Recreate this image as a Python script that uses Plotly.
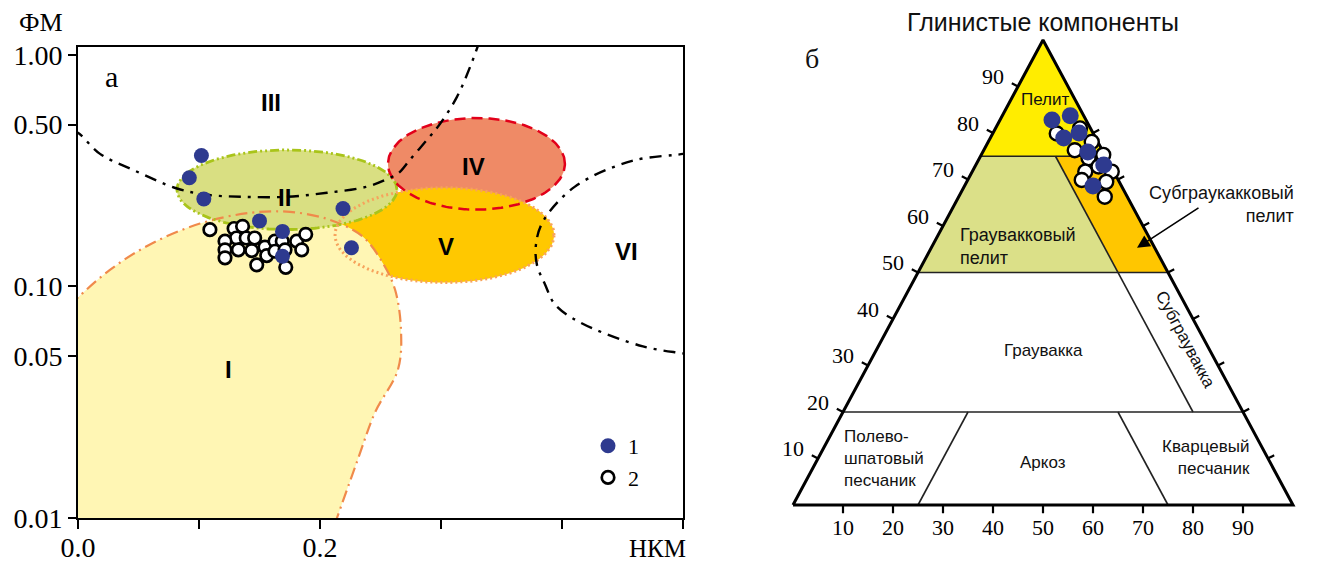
import numpy as np
import plotly.graph_objects as go

# ---------------- Panel "а": НКМ vs ФМ (log) ----------------
nkm_1 = [0.102, 0.092, 0.104, 0.150, 0.169, 0.169, 0.219, 0.226]
fm_1 = [0.368, 0.295, 0.239, 0.192, 0.173, 0.135, 0.217, 0.147]

nkm_2 = [0.109, 0.129, 0.136, 0.131, 0.139, 0.146, 0.1215, 0.1215, 0.1215, 0.1325, 0.1436,
         0.1545, 0.156, 0.1477, 0.1628, 0.1688, 0.1628, 0.1711, 0.1807, 0.1849, 0.1882, 0.1717]
fm_2 = [0.176, 0.178, 0.182, 0.162, 0.162, 0.162, 0.157, 0.144, 0.133, 0.144, 0.143,
        0.148, 0.136, 0.124, 0.157, 0.157, 0.142, 0.144, 0.157, 0.144, 0.168, 0.121]

# field I boundary (НКМ, ФМ)
field1_x = [-0.007, 0.0, 0.0264, 0.0595, 0.1008, 0.1421, 0.1752, 0.2083, 0.2355, 0.2521, 0.262,
            0.2669, 0.2645, 0.2455, 0.2314, 0.214, 0.2107]
field1_y = [0.0828, 0.0897, 0.118, 0.152, 0.187, 0.208, 0.210, 0.194, 0.164, 0.1257, 0.097,
            0.0653, 0.0439, 0.0286, 0.0180, 0.0100, 0.00897]

# elliptical fields: centre НКМ, centre log10(ФМ), half-width НКМ, half-height (decades)
field2_ell = (0.1727, -0.582, 0.0909, 0.172)
field4_ell = (0.3293, -0.470, 0.0731, 0.198)
field5_ell = (0.3029, -0.778, 0.0905, 0.205)

# dash-dot boundary lines
bound1_x = [-0.005, 0.0, 0.0182, 0.0455, 0.0818, 0.1066, 0.1364, 0.1727, 0.2058, 0.2388, 0.2579,
            0.2653, 0.2744, 0.2884, 0.2992, 0.3132, 0.3240, 0.3322]
bound1_y = [0.47, 0.461, 0.374, 0.319, 0.265, 0.249, 0.244, 0.244, 0.254, 0.270, 0.295,
            0.310, 0.353, 0.430, 0.504, 0.659, 0.887, 1.16]
bound2_x = [0.5058, 0.5, 0.4579, 0.4107, 0.3843, 0.3785, 0.3793, 0.3860, 0.3942, 0.4149, 0.4669,
            0.5, 0.5058]
bound2_y = [0.382, 0.374, 0.349, 0.270, 0.191, 0.152, 0.124, 0.102, 0.0836, 0.070, 0.0551,
            0.0514, 0.0507]

x_ticks = [0.0, 0.1, 0.2, 0.3, 0.4, 0.5]
x_ticktext = ["0.0", "", "0.2", "", "", ""]
y_ticks = [1.0, 0.5, 0.1, 0.05, 0.01]
y_ticktext = ["1.00", "0.50", "0.10", "0.05", "0.01"]

field_labels = ["III", "II", "IV", "V", "VI", "I"]
field_label_x = [0.1595, 0.171, 0.327, 0.304, 0.453, 0.124]
field_label_y = [0.621, 0.242, 0.329, 0.149, 0.142, 0.0439]

# ---------------- Panel "б": ternary (clay, feldspar, quartz), % ----------------
clay_1 = [82.8, 83.7, 78.9, 80.0, 75.9, 73.1, 68.6]
quartz_1 = [10.4, 13.6, 14.7, 17.2, 21.0, 25.6, 25.7]
feldspar_1 = [6.8, 2.7, 6.4, 2.8, 3.1, 1.3, 5.7]

clay_2 = [79.9, 81.0, 76.3, 78.1, 74.6, 75.3, 72.8, 71.7, 71.7, 69.9, 69.5, 66.3]
quartz_2 = [12.8, 16.9, 18.2, 20.7, 21.8, 24.4, 24.7, 27.9, 22.6, 22.8, 27.9, 29.2]
feldspar_2 = [7.3, 2.1, 5.5, 1.2, 3.6, 0.3, 2.5, 0.4, 5.7, 7.3, 2.6, 4.5]

# classification fields (clay, quartz) vertices
pelite_clay, pelite_q = [75, 100, 75], [0, 0, 25]
gwpelite_clay, gwpelite_q = [75, 75, 50, 50], [0, 15, 40, 0]
sgwpelite_clay, sgwpelite_q = [75, 75, 50, 50], [15, 25, 50, 40]
# inner boundary segments (clay0, q0, clay1, q1)
inner_segments = [(75, 0, 75, 25), (50, 0, 50, 50), (20, 0, 20, 80), (75, 15, 20, 70),
                  (0, 25, 20, 25), (0, 75, 20, 55)]
tern_ticks = [10, 20, 30, 40, 50, 60, 70, 80, 90]
right_ticks = [10, 20, 30, 40, 50, 60, 70, 80]

BLUE = "#2e3a8f"


def tx(clay, q):
    return np.asarray(q, float) + np.asarray(clay, float) / 2.0


def ellipse(p, n=240):
    xc, lyc, rx, ry = p
    t = np.linspace(0, 2 * np.pi, n)
    return xc + rx * np.cos(t), 10 ** (lyc + ry * np.sin(t))


fig = go.Figure()

# ---- fills (panel a) ----
ex4, ey4 = ellipse(field4_ell)
ex5, ey5 = ellipse(field5_ell)
ex2, ey2 = ellipse(field2_ell)
fig.add_trace(go.Scatter(x=ex4, y=ey4, fill="toself", fillcolor="#ef8a66", mode="none",
                         showlegend=False, hoverinfo="skip"))
fig.add_trace(go.Scatter(x=ex5, y=ey5, fill="toself", fillcolor="#ffc800", mode="none",
                         showlegend=False, hoverinfo="skip"))
f1x = field1_x + [-0.05, -0.05]
f1y = field1_y + [0.005, 0.08]
fig.add_trace(go.Scatter(x=f1x, y=f1y, fill="toself", fillcolor="#fff6b4", mode="lines",
                         line=dict(width=0, shape="spline"), showlegend=False, hoverinfo="skip"))
fig.add_trace(go.Scatter(x=ex2, y=ey2, fill="toself", fillcolor="#d9df82", mode="none",
                         showlegend=False, hoverinfo="skip"))
# ---- borders ----
fig.add_trace(go.Scatter(x=field1_x, y=field1_y, mode="lines",
                         line=dict(color="#f08a4b", width=2.2, dash="12px,5px,2px,5px", shape="spline"),
                         showlegend=False, hoverinfo="skip"))
fig.add_trace(go.Scatter(x=ex2, y=ey2, mode="lines",
                         line=dict(color="#a9c41a", width=2.8, dash="9px,3px,2px,3px,2px,3px"),
                         showlegend=False, hoverinfo="skip"))
fig.add_trace(go.Scatter(x=ex5, y=ey5, mode="lines",
                         line=dict(color="#f7a35c", width=3, dash="2px,3px"),
                         showlegend=False, hoverinfo="skip"))
fig.add_trace(go.Scatter(x=ex4, y=ey4, mode="lines",
                         line=dict(color="#e2001a", width=2.5, dash="11px,6px"),
                         showlegend=False, hoverinfo="skip"))
for bx, by in [(bound1_x, bound1_y), (bound2_x, bound2_y)]:
    fig.add_trace(go.Scatter(x=bx, y=by, mode="lines",
                             line=dict(color="black", width=2.4, dash="12px,7px,3px,7px", shape="spline"),
                             showlegend=False, hoverinfo="skip"))
# ---- points (panel a): open circles first, filled on top ----
fig.add_trace(go.Scatter(x=nkm_2, y=fm_2, mode="markers", name="2", legendrank=2,
                         marker=dict(color="white", size=12.5, line=dict(color="black", width=2.7))))
fig.add_trace(go.Scatter(x=nkm_1, y=fm_1, mode="markers", name="1", legendrank=1,
                         marker=dict(color=BLUE, size=15, line=dict(width=0))))

# ---- ternary panel (cartesian projection) ----
for cl, q, col in [(pelite_clay, pelite_q, "#ffed00"), (gwpelite_clay, gwpelite_q, "#dbe088"),
                   (sgwpelite_clay, sgwpelite_q, "#ffc600")]:
    fig.add_trace(go.Scatter(x=tx(cl, q), y=cl, fill="toself", fillcolor=col, mode="none",
                             xaxis="x2", yaxis="y2", showlegend=False, hoverinfo="skip"))
segx, segy = [], []
for c0, q0, c1, q1 in inner_segments:
    segx += [float(tx(c0, q0)), float(tx(c1, q1)), None]
    segy += [c0, c1, None]
fig.add_trace(go.Scatter(x=segx, y=segy, mode="lines", line=dict(color="#222222", width=1.6),
                         xaxis="x2", yaxis="y2", showlegend=False, hoverinfo="skip"))
# ticks
tkx, tky = [], []
for t in tern_ticks:
    ex, ey = float(tx(t, 0)), t
    tkx += [ex, ex - 1.24, None]; tky += [ey, ey + 0.71, None]
    tkx += [t, t, None]; tky += [0, -1.75, None]
for t in right_ticks:
    ex, ey = float(tx(t, 100 - t)), t
    tkx += [ex, ex + 1.24, None]; tky += [ey, ey + 0.71, None]
fig.add_trace(go.Scatter(x=tkx, y=tky, mode="lines", line=dict(color="black", width=2.2),
                         xaxis="x2", yaxis="y2", showlegend=False, hoverinfo="skip"))
# outer triangle
tri_clay = [0, 100, 0, 0]
tri_q = [0, 0, 100, 0]
fig.add_trace(go.Scatter(x=tx(tri_clay, tri_q), y=tri_clay, mode="lines",
                         line=dict(color="black", width=3), xaxis="x2", yaxis="y2",
                         showlegend=False, hoverinfo="skip"))
fig.add_trace(go.Scatter(x=tx(clay_2, quartz_2), y=clay_2, mode="markers", xaxis="x2", yaxis="y2",
                         marker=dict(color="white", size=14, line=dict(color="black", width=2.4)),
                         customdata=feldspar_2, showlegend=False, cliponaxis=False))
fig.add_trace(go.Scatter(x=tx(clay_1, quartz_1), y=clay_1, mode="markers", xaxis="x2", yaxis="y2",
                         marker=dict(color=BLUE, size=17, line=dict(width=0)),
                         customdata=feldspar_1, showlegend=False, cliponaxis=False))

SERIF = "Liberation Serif"
SANS = "Liberation Sans"
ann = []
for lab, x, y in zip(field_labels, field_label_x, field_label_y):
    ann.append(dict(x=x, y=float(np.log10(y)), xref="x", yref="y", text="<b>%s</b>" % lab,
                    showarrow=False, font=dict(family=SANS, size=24, color="black")))
ann.append(dict(x=0.028, y=-0.095, xref="x", yref="y", text="а", showarrow=False,
                font=dict(family=SERIF, size=30, color="black")))
ann.append(dict(x=41 / 1331, y=1 - 22 / 566, xref="paper", yref="paper", text="ФМ", showarrow=False,
                xanchor="center", yanchor="middle", font=dict(family=SERIF, size=26, color="black")))
ann.append(dict(x=657 / 1331, y=1 - 548 / 566, xref="paper", yref="paper", text="НКМ", showarrow=False,
                xanchor="center", yanchor="middle", font=dict(family=SERIF, size=25, color="black")))

# ternary labels
for t in tern_ticks:
    ann.append(dict(x=float(tx(t, 0)) - 5.0, y=t + 2.1, xref="x2", yref="y2", text=str(t),
                    showarrow=False, font=dict(family=SERIF, size=22, color="black")))
    ann.append(dict(x=t, y=-4.8, xref="x2", yref="y2", text=str(t),
                    showarrow=False, font=dict(family=SERIF, size=22, color="black")))


def tann(x, y, text, size=17, xanchor="center", align="center", angle=0, family=SANS):
    ann.append(dict(x=x, y=y, xref="x2", yref="y2", text=text, showarrow=False, xanchor=xanchor,
                    align=align, textangle=angle, font=dict(family=family, size=size, color="#111111")))


tann(50, 103.9, "Глинистые компоненты", size=25)
tann(8.4, -10.1, "Полевые шпаты", size=25)
tann(100.4, -10.1, "Кварц", size=25)
tann(3.8, 96.1, "б", size=28, family=SERIF)
tann(50.4, 87.1, "Пелит", size=17)
tann(33, 55.6, "Граувакковый<br>пелит", size=18, xanchor="left", align="left")
tann(100.6, 64.7, "Субграукакковый<br>пелит", size=18, xanchor="right", align="right")
tann(50, 33.3, "Граувакка", size=17)
tann(78.4, 35.5, "Субграувакка", size=17, angle=62)
tann(9.8, 10.1, "Полево-<br>шпатовый<br>песчаник", size=17, xanchor="left", align="left")
tann(50, 9.2, "Аркоз", size=17)
tann(91.8, 10.3, "Кварцевый<br>песчаник", size=17, xanchor="right", align="right")
ann.append(dict(x=68.8, y=55.3, ax=81.4, ay=64.1, xref="x2", yref="y2", axref="x2", ayref="y2",
                text="", showarrow=True, arrowhead=2, arrowsize=1.6, arrowwidth=1.6, arrowcolor="black"))

W, H = 1331, 566
fig.update_layout(
    width=W, height=H, margin=dict(l=0, r=0, t=0, b=0, autoexpand=False),
    paper_bgcolor="white", plot_bgcolor="rgba(0,0,0,0)",
    showlegend=True,
    legend=dict(x=588 / W, y=1 - 425 / H, xanchor="left", yanchor="top", bgcolor="rgba(0,0,0,0)",
                font=dict(family=SERIF, size=22, color="black"), itemwidth=30),
    xaxis=dict(domain=[78 / W, 683 / W], range=[0, 0.5], showgrid=False, zeroline=False,
               showline=True, linecolor="black", linewidth=2, mirror=True, ticks="outside",
               ticklen=9, tickwidth=2, tickcolor="black", tickvals=x_ticks, ticktext=x_ticktext,
               tickfont=dict(family=SERIF, size=28, color="black"), ticklabelstandoff=-6,
               automargin=False),
    yaxis=dict(domain=[(H - 518) / H, (H - 47) / H], type="log", range=[-2, 0.0345], showgrid=False,
               zeroline=False, showline=True, linecolor="black", linewidth=2, mirror=True,
               ticks="outside", ticklen=8, tickwidth=2, tickcolor="black", tickvals=y_ticks,
               ticktext=y_ticktext, tickfont=dict(family=SERIF, size=28, color="black"),
               automargin=False),
    xaxis2=dict(domain=[753 / W, 1323 / W], range=[-8, 106], visible=False, fixedrange=True,
                automargin=False),
    yaxis2=dict(domain=[(H - 542.2) / H, (H - 21.4) / H], range=[-8, 104], visible=False,
                fixedrange=True, automargin=False),
    annotations=ann,
)

fig.write_html("out.html")
